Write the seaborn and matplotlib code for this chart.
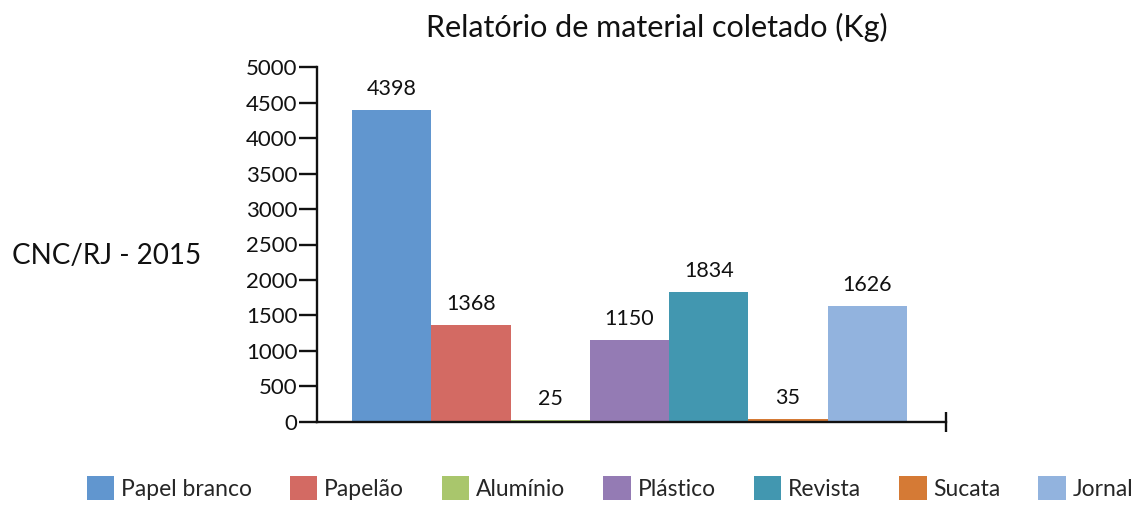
import matplotlib
matplotlib.use("Agg")
import matplotlib.pyplot as plt
from matplotlib.patches import Patch
import seaborn as sns
import pandas as pd

categories = ["Papel branco", "Papelão", "Alumínio", "Plástico", "Revista", "Sucata", "Jornal"]
values = [4398, 1368, 25, 1150, 1834, 35, 1626]
colors = ["#6196cf", "#d36a63", "#a9c66c", "#947bb4", "#4297b0", "#d57a35", "#92b3de"]
yticks = list(range(0, 5001, 500))
title = "Relatório de material coletado (Kg)"
side_label = "CNC/RJ - 2015"

sns.set_theme(style="white")
plt.rcParams["font.family"] = ["Lato", "DejaVu Sans"]

df = pd.DataFrame({"cat": categories, "val": values})

fig = plt.figure(figsize=(11.34, 5.05), dpi=100)
ax = fig.add_axes([317 / 1134, (505 - 421.7) / 505, (945.7 - 317) / 1134, (421.7 - 67.3) / 505])

sns.barplot(data=df, x="cat", y="val", hue="cat", palette=colors, width=1.0,
            legend=False, ax=ax, saturation=1, linewidth=0, order=categories,
            hue_order=categories)

for cont in ax.containers:
    ax.bar_label(cont, fmt="%d", padding=8, fontsize=15.5, color="#111111")

ax.set_ylim(0, 5000)
ax.set_xlim(-0.941, 6.988)
ax.set_yticks(yticks)
ax.set_yticklabels([str(t) for t in yticks], fontsize=16, color="#111111")
ax.set_xticks([6.988])
ax.set_xticklabels([""])
ax.set_xlabel("")
ax.set_ylabel("")

for s in ["top", "right"]:
    ax.spines[s].set_visible(False)
for s in ["left", "bottom"]:
    ax.spines[s].set_color("#111111")
    ax.spines[s].set_linewidth(1.7)

ax.tick_params(axis="y", direction="out", length=13, width=1.7, color="#111111", pad=1, left=True)
ax.tick_params(axis="x", direction="inout", length=15, width=1.7, color="#111111", bottom=True)

fig.text(0.579, 1 - 27 / 505, title, ha="center", va="center", fontsize=22, color="#111111")
fig.text(12 / 1134, 1 - 256 / 505, side_label, ha="left", va="center", fontsize=20, color="#111111")

handles = [Patch(facecolor=c, edgecolor="none") for c in colors]
fig.legend(handles, categories, ncol=7, loc="center", bbox_to_anchor=(610 / 1134, 1 - 488 / 505),
           frameon=False, fontsize=16.5, handlelength=1.2, handleheight=1.2,
           handletextpad=0.3, columnspacing=1.65, borderaxespad=0, borderpad=0)

fig.savefig("out.png", dpi=100)
